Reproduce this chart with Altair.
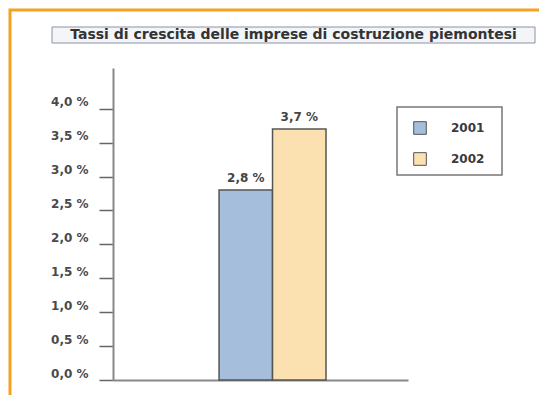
import altair as alt
import pandas as pd

years = ["2001", "2002"]
values = [2.8, 3.7]
labels = ["2,8 %", "3,7 %"]
colors = ["#A5BEDC", "#FCE1B0"]
y_ticks = [0.0, 0.5, 1.0, 1.5, 2.0, 2.5, 3.0, 3.5, 4.0]
title_text = "Tassi di crescita delle imprese di costruzione piemontesi"

df = pd.DataFrame({"grp": ["g", "g"], "year": years, "value": values, "label": labels})
FONT = "DejaVu Sans"

x_scale = alt.Scale(domain=["g"], paddingInner=0, paddingOuter=0.879, align=0.564)
xo_scale = alt.Scale(domain=years, paddingInner=0, paddingOuter=0)

x_axis = alt.Axis(labels=False, ticks=False, domainColor="#888888", domainWidth=2)
y_axis = alt.Axis(values=y_ticks, grid=False, labelOverlap=False, tickCount=9,
                  labelExpr="replace(format(datum.value, '.1f'), '.', ',') + ' %'",
                  tickSize=14, tickColor="#666666", tickWidth=1.5,
                  domainColor="#888888", domainWidth=2,
                  labelFont=FONT, labelFontWeight="bold", labelFontSize=12,
                  labelColor="#4a4a4a", labelPadding=11, labelOffset=-7)
y_scale = alt.Scale(domain=[0, 4.6], nice=False)

bars = alt.Chart(df).mark_bar(stroke="#555555", strokeWidth=1.5).encode(
    x=alt.X("grp:N", title=None, scale=x_scale, axis=x_axis),
    xOffset=alt.XOffset("year:N", scale=xo_scale),
    y=alt.Y("value:Q", title=None, scale=y_scale, axis=y_axis),
    color=alt.Color("year:N", scale=alt.Scale(domain=years, range=colors),
                    legend=alt.Legend(title=None, orient="none", legendX=300, legendY=53,
                                      symbolType="square", symbolSize=160,
                                      symbolStrokeColor="#555555", symbolStrokeWidth=1,
                                      labelFont=FONT, labelFontWeight="bold", labelFontSize=12,
                                      labelColor="#3a3a3a", labelOffset=24, rowPadding=13,
                                      padding=0)),
)

text = alt.Chart(df).mark_text(font=FONT, fontWeight="bold", fontSize=12, color="#444444",
                               baseline="bottom", dy=-5).encode(
    x=alt.X("grp:N", title=None, scale=x_scale, axis=x_axis),
    xOffset=alt.XOffset("year:N", scale=xo_scale),
    y=alt.Y("value:Q", title=None, scale=y_scale, axis=y_axis),
    text="label:N")

deco = pd.DataFrame({"t": [title_text]})

frame = alt.Chart(deco).mark_rect(fill=None, stroke="#F5A21C", strokeWidth=3).encode(
    x=alt.value(-103), x2=alt.value(450), y=alt.value(-58), y2=alt.value(350))

title_box = alt.Chart(deco).mark_rect(fill="#F3F5F9", stroke="#8A92A4", strokeWidth=1).encode(
    x=alt.value(-61), x2=alt.value(422), y=alt.value(-41), y2=alt.value(-25))

title = alt.Chart(deco).mark_text(font=FONT, fontWeight="bold", fontSize=14, color="#333333",
                                  baseline="middle", align="center").encode(
    x=alt.value(180.5), y=alt.value(-33), text="t:N")

legend_box = alt.Chart(deco).mark_rect(fill=None, stroke="#777777", strokeWidth=1.5).encode(
    x=alt.value(284), x2=alt.value(389), y=alt.value(39), y2=alt.value(107))

chart = alt.layer(frame, title_box, title, legend_box, bars, text).properties(
    width=295, height=312,
    padding={"left": 105, "top": 60, "right": 131, "bottom": 15},
    autosize=alt.AutoSizeParams(type="none"),
    background="white",
).configure_view(stroke=None)

chart.save("out.html", embed_options={"renderer": "svg", "actions": False})
